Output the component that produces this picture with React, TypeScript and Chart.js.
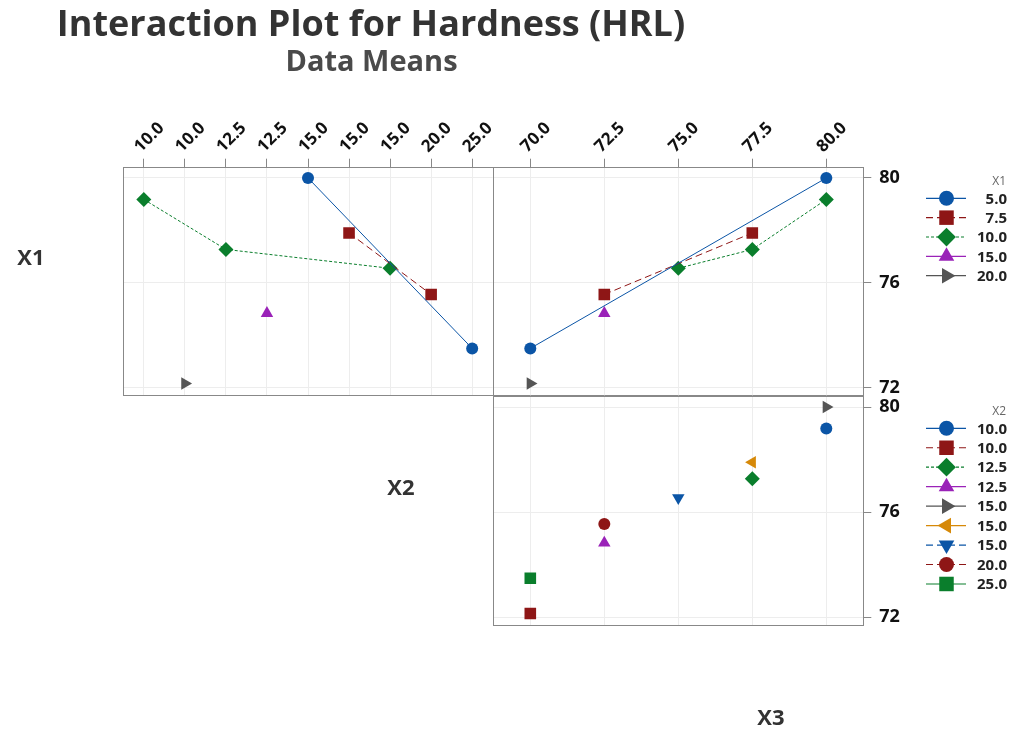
import React, { useEffect, useRef } from 'react';
import { Chart, registerables } from 'chart.js';
Chart.register(...registerables);

const FONT = '"Open Sans", "Noto Sans", sans-serif';

// ---------------- data ----------------
const X2_CATEGORIES = ['10.0', '10.0', '12.5', '12.5', '15.0', '15.0', '15.0', '20.0', '25.0'];
const X3_TICK_VALUES = [70, 72.5, 75, 77.5, 80];
const Y_TICK_VALUES = [72, 76, 80];
const X1_LEVELS = ['5.0', '7.5', '10.0', '15.0', '20.0'];
const X2_LEVELS = ['10.0', '10.0', '12.5', '12.5', '15.0', '15.0', '15.0', '20.0', '25.0'];

// Hardness means for each X1 level, by X2 column
const MEAN_X1_5_BY_X2 = [null, null, null, null, 80.0, null, null, null, 73.49];
const MEAN_X1_7_5_BY_X2 = [null, null, null, null, null, 77.9, null, 75.55, null];
const MEAN_X1_10_BY_X2 = [79.18, null, 77.27, null, null, null, 76.55, null, null];
const MEAN_X1_15_BY_X2 = [null, null, null, 74.83, null, null, null, null, null];
const MEAN_X1_20_BY_X2 = [null, 72.15, null, null, null, null, null, null, null];

// Hardness means for each X1 level, by X3
const X3_OF_X1_5 = [70, 80];
const MEAN_X1_5_BY_X3 = [73.49, 80.0];
const X3_OF_X1_7_5 = [72.5, 77.5];
const MEAN_X1_7_5_BY_X3 = [75.55, 77.9];
const X3_OF_X1_10 = [75, 77.5, 80];
const MEAN_X1_10_BY_X3 = [76.55, 77.27, 79.18];
const X3_OF_X1_15 = [72.5];
const MEAN_X1_15_BY_X3 = [74.83];
const X3_OF_X1_20 = [70];
const MEAN_X1_20_BY_X3 = [72.15];

// Hardness means for each X2 group, by X3
const X3_OF_X2_GROUP = [80, 70, 77.5, 72.5, 80, 77.5, 75, 72.5, 70];
const MEAN_X2_GROUP = [79.18, 72.15, 77.27, 74.83, 80.0, 77.9, 76.55, 75.55, 73.49];

// ---------------- styles ----------------
type Mk = { color: string; shape: string; rot: number; r: number; dash: number[] };
const BLUE = '#0B55A6';
const RED = '#8E1616';
const GREEN = '#0A7E2C';
const PURPLE = '#9A22B8';
const GRAY = '#555555';
const ORANGE = '#D68908';

const X1_STYLES: Mk[] = [
  { color: BLUE, shape: 'circle', rot: 0, r: 6, dash: [] },
  { color: RED, shape: 'rect', rot: 0, r: 8.2, dash: [7, 4] },
  { color: GREEN, shape: 'rectRot', rot: 0, r: 7.5, dash: [3, 2] },
  { color: PURPLE, shape: 'triangle', rot: 0, r: 7.2, dash: [] },
  { color: GRAY, shape: 'triangle', rot: 90, r: 7.2, dash: [] },
];
const X2_STYLES: Mk[] = [
  { color: BLUE, shape: 'circle', rot: 0, r: 6, dash: [] },
  { color: RED, shape: 'rect', rot: 0, r: 8.2, dash: [7, 4] },
  { color: GREEN, shape: 'rectRot', rot: 0, r: 7.5, dash: [3, 2] },
  { color: PURPLE, shape: 'triangle', rot: 0, r: 7.2, dash: [] },
  { color: GRAY, shape: 'triangle', rot: 90, r: 7.2, dash: [] },
  { color: ORANGE, shape: 'triangle', rot: 270, r: 7.2, dash: [] },
  { color: BLUE, shape: 'triangle', rot: 180, r: 7.2, dash: [7, 4] },
  { color: RED, shape: 'circle', rot: 0, r: 6, dash: [7, 4] },
  { color: GREEN, shape: 'rect', rot: 0, r: 8.2, dash: [] },
];

const W = 1027;
const H = 752;
const Y_MIN = 71.71;
const Y_MAX = 80.43;

function dsStyle(s: Mk) {
  return {
    borderColor: s.color,
    backgroundColor: s.color,
    borderWidth: 1,
    borderDash: s.dash,
    pointStyle: s.shape,
    pointRotation: s.rot,
    pointRadius: s.r,
    pointBorderWidth: 0,
    pointBackgroundColor: s.color,
  };
}

function drawMarker(ctx: CanvasRenderingContext2D, s: Mk, x: number, y: number, radius: number) {
  let rad = (s.rot * Math.PI) / 180;
  ctx.beginPath();
  if (s.shape === 'circle') {
    ctx.arc(x, y, radius, 0, Math.PI * 2);
  } else if (s.shape === 'rect') {
    const size = Math.SQRT1_2 * radius;
    ctx.rect(x - size, y - size, 2 * size, 2 * size);
  } else if (s.shape === 'rectRot') {
    ctx.moveTo(x - radius, y);
    ctx.lineTo(x, y - radius);
    ctx.lineTo(x + radius, y);
    ctx.lineTo(x, y + radius);
    ctx.closePath();
  } else {
    const T = (2 * Math.PI) / 3;
    ctx.moveTo(x + Math.sin(rad) * radius, y - Math.cos(rad) * radius);
    rad += T;
    ctx.lineTo(x + Math.sin(rad) * radius, y - Math.cos(rad) * radius);
    rad += T;
    ctx.lineTo(x + Math.sin(rad) * radius, y - Math.cos(rad) * radius);
    ctx.closePath();
  }
  ctx.fillStyle = s.color;
  ctx.fill();
}

const framePlugin = {
  id: 'frame',
  beforeDatasetsDraw(chart: any) {
    const { ctx, chartArea: a } = chart;
    ctx.save();
    ctx.strokeStyle = '#888888';
    ctx.lineWidth = 1;
    ctx.setLineDash([]);
    const l = Math.round(a.left) + 0.5;
    const t = Math.round(a.top) + 0.5;
    const r = Math.round(a.right) + 0.5;
    const b = Math.round(a.bottom) + 0.5;
    ctx.strokeRect(l, t, r - l, b - t);
    ctx.restore();
  },
};

function legendPlugin(id: string, title: string, labels: string[], styles: Mk[], titleY: number, rowY0: number, step: number) {
  return {
    id,
    afterDraw(chart: any) {
      const ctx: CanvasRenderingContext2D = chart.ctx;
      ctx.save();
      ctx.textAlign = 'right';
      ctx.textBaseline = 'middle';
      ctx.font = `12px ${FONT}`;
      ctx.fillStyle = '#666666';
      ctx.fillText(title, 1006, titleY);
      labels.forEach((lab, i) => {
        const y = rowY0 + i * step;
        const s = styles[i];
        ctx.strokeStyle = s.color;
        ctx.lineWidth = 1.2;
        ctx.setLineDash(s.dash);
        ctx.beginPath();
        ctx.moveTo(926, y);
        ctx.lineTo(966, y);
        ctx.stroke();
        ctx.setLineDash([]);
        drawMarker(ctx, s, 946.5, y, s.r * 1.25);
        ctx.font = `bold 15px ${FONT}`;
        ctx.fillStyle = '#222222';
        ctx.fillText(lab, 1007, y + 1);
      });
      ctx.restore();
    },
  };
}

const gridColor = '#ededed';

function yScale(show: boolean, position: string) {
  return {
    type: 'linear',
    position,
    min: Y_MIN,
    max: Y_MAX,
    afterBuildTicks: (s: any) => {
      s.ticks = Y_TICK_VALUES.map((v) => ({ value: v }));
    },
    afterFit: (s: any) => {
      s.width = show ? 60 : 0;
    },
    border: { display: false },
    grid: {
      color: gridColor,
      lineWidth: 1,
      drawTicks: show,
      tickLength: 8,
      tickColor: '#888888',
    },
    ticks: {
      display: show,
      padding: 8,
      color: '#111111',
      font: { family: FONT, size: 18, weight: 'bold' },
      callback: (v: any) => String(v),
    },
  };
}

function topXTicks() {
  return {
    display: true,
    padding: 2,
    labelOffset: 8,
    minRotation: 45,
    maxRotation: 45,
    autoSkip: false,
    color: '#111111',
    font: { family: FONT, size: 17, weight: 'bold' },
  };
}

function makePanel1(canvas: HTMLCanvasElement) {
  const data = [MEAN_X1_5_BY_X2, MEAN_X1_7_5_BY_X2, MEAN_X1_10_BY_X2, MEAN_X1_15_BY_X2, MEAN_X1_20_BY_X2];
  return new Chart(canvas, {
    type: 'line',
    data: {
      labels: X2_CATEGORIES,
      datasets: data.map((d, i) => ({
        label: X1_LEVELS[i],
        data: d,
        spanGaps: true,
        ...dsStyle(X1_STYLES[i]),
      })) as any,
    },
    options: {
      responsive: false,
      animation: false,
      devicePixelRatio: 1,
      events: [],
      layout: { padding: { left: 123.3, right: W - 492.7, top: 166.7 - 70, bottom: H - 395 } },
      plugins: { legend: { display: false }, tooltip: { enabled: false }, title: { display: false } },
      scales: {
        x: {
          type: 'category',
          position: 'top',
          offset: true,
          afterFit: (s: any) => {
            s.height = 70;
          },
          border: { display: false },
          grid: { offset: false, color: gridColor, drawTicks: true, tickLength: 8, tickColor: '#888888' },
          ticks: topXTicks(),
        },
        y: yScale(false, 'left'),
      } as any,
    },
    plugins: [framePlugin],
  });
}

function makePanel2(canvas: HTMLCanvasElement) {
  const xs = [X3_OF_X1_5, X3_OF_X1_7_5, X3_OF_X1_10, X3_OF_X1_15, X3_OF_X1_20];
  const ys = [MEAN_X1_5_BY_X3, MEAN_X1_7_5_BY_X3, MEAN_X1_10_BY_X3, MEAN_X1_15_BY_X3, MEAN_X1_20_BY_X3];
  return new Chart(canvas, {
    type: 'scatter',
    data: {
      datasets: xs.map((xv, i) => ({
        label: X1_LEVELS[i],
        data: xv.map((x, j) => ({ x, y: ys[i][j] })),
        showLine: true,
        ...dsStyle(X1_STYLES[i]),
      })) as any,
    },
    options: {
      responsive: false,
      animation: false,
      devicePixelRatio: 1,
      events: [],
      layout: { padding: { left: 493.3, right: W - 863.3 - 60, top: 166.7 - 70, bottom: H - 395 } },
      plugins: { legend: { display: false }, tooltip: { enabled: false } },
      scales: {
        x: {
          type: 'linear',
          position: 'top',
          min: 68.75,
          max: 81.25,
          afterBuildTicks: (s: any) => {
            s.ticks = X3_TICK_VALUES.map((v) => ({ value: v }));
          },
          afterFit: (s: any) => {
            s.height = 70;
          },
          border: { display: false },
          grid: { color: gridColor, drawTicks: true, tickLength: 8, tickColor: '#888888' },
          ticks: { ...topXTicks(), callback: (v: any) => Number(v).toFixed(1) },
        },
        y: yScale(true, 'right'),
      } as any,
    },
    plugins: [framePlugin, legendPlugin('legX1', 'X1', X1_LEVELS, X1_STYLES, 181.5, 198.3, 19.35)],
  });
}

function makePanel3(canvas: HTMLCanvasElement) {
  return new Chart(canvas, {
    type: 'scatter',
    data: {
      datasets: X2_LEVELS.map((lab, i) => ({
        label: lab,
        data: [{ x: X3_OF_X2_GROUP[i], y: MEAN_X2_GROUP[i] }],
        showLine: false,
        ...dsStyle(X2_STYLES[i]),
      })) as any,
    },
    options: {
      responsive: false,
      animation: false,
      devicePixelRatio: 1,
      events: [],
      layout: { padding: { left: 493.3, right: W - 863.3 - 60, top: 395.7, bottom: H - 625 } },
      plugins: { legend: { display: false }, tooltip: { enabled: false } },
      scales: {
        x: {
          type: 'linear',
          position: 'bottom',
          min: 68.75,
          max: 81.25,
          afterBuildTicks: (s: any) => {
            s.ticks = X3_TICK_VALUES.map((v) => ({ value: v }));
          },
          afterFit: (s: any) => {
            s.height = 0;
          },
          border: { display: false },
          grid: { color: gridColor, drawTicks: false },
          ticks: { display: false },
        },
        y: yScale(true, 'right'),
      } as any,
    },
    plugins: [framePlugin, legendPlugin('legX2', 'X2', X2_LEVELS, X2_STYLES, 411.5, 428.3, 19.46)],
  });
}

const textBase: React.CSSProperties = {
  position: 'absolute',
  fontFamily: FONT,
  fontWeight: 700,
  lineHeight: 1,
  whiteSpace: 'nowrap',
  margin: 0,
};

export default function App() {
  const c1 = useRef<HTMLCanvasElement>(null);
  const c2 = useRef<HTMLCanvasElement>(null);
  const c3 = useRef<HTMLCanvasElement>(null);

  useEffect(() => {
    const charts = [makePanel1(c1.current!), makePanel2(c2.current!), makePanel3(c3.current!)];
    return () => charts.forEach((c) => c.destroy());
  }, []);

  const canvasStyle: React.CSSProperties = { position: 'absolute', left: 0, top: 0, width: W, height: H };

  return (
    <div style={{ position: 'absolute', left: 0, top: 0, width: W, height: H, background: '#ffffff', overflow: 'hidden' }}>
      <canvas ref={c1} width={W} height={H} style={canvasStyle} />
      <canvas ref={c2} width={W} height={H} style={canvasStyle} />
      <canvas ref={c3} width={W} height={H} style={canvasStyle} />
      <div style={{ ...textBase, left: 0, width: 742, textAlign: 'center', top: 36.7 - 0.888 * 36, fontSize: 36, color: '#333333' }}>
        Interaction Plot for Hardness (HRL)
      </div>
      <div style={{ ...textBase, left: 0, width: 743, textAlign: 'center', top: 70.7 - 0.888 * 29, fontSize: 29, color: '#4a4a4a' }}>
        Data Means
      </div>
      <div style={{ ...textBase, left: 1, width: 60, textAlign: 'center', top: 265 - 0.888 * 22, fontSize: 22, color: '#333333' }}>X1</div>
      <div style={{ ...textBase, left: 371, width: 60, textAlign: 'center', top: 495 - 0.888 * 22, fontSize: 22, color: '#333333' }}>X2</div>
      <div style={{ ...textBase, left: 741, width: 60, textAlign: 'center', top: 725 - 0.888 * 22, fontSize: 22, color: '#333333' }}>X3</div>
    </div>
  );
}
